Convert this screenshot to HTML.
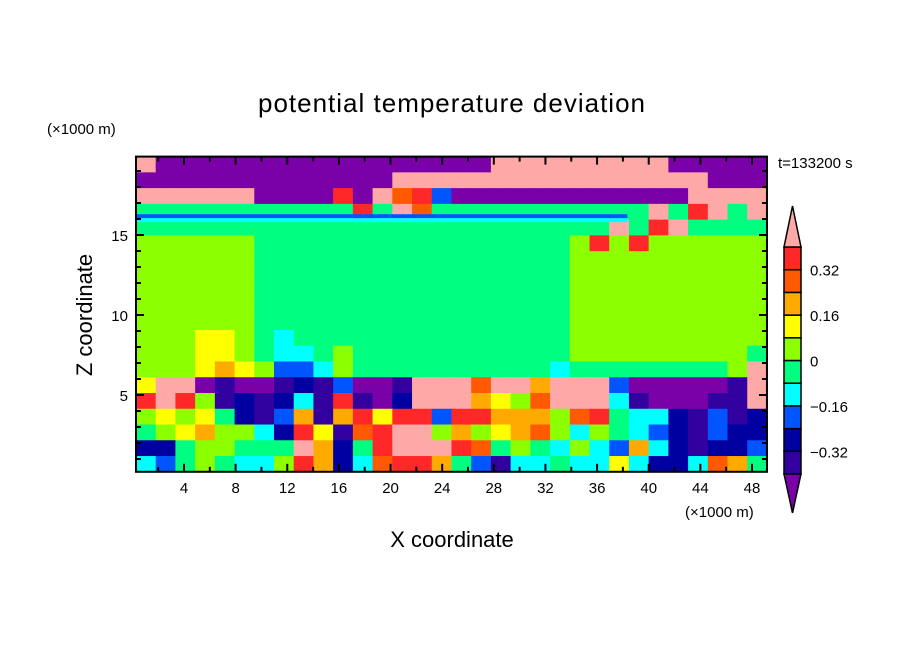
<!DOCTYPE html>
<html><head><meta charset="utf-8">
<style>
body{margin:0;background:#fff;width:904px;height:654px;overflow:hidden}
svg text{font-family:"Liberation Sans",sans-serif;fill:#000}
</style></head>
<body>
<svg id="chart" width="904" height="654" viewBox="0 0 904 654" xmlns="http://www.w3.org/2000/svg">
<g id="field"></g>
<g id="axes"></g>
<g id="cbar"></g>
<text x="452" y="112" font-size="26" text-anchor="middle" letter-spacing="1">potential temperature deviation</text>
<text x="47" y="134" font-size="15">(×1000 m)</text>
<text x="685" y="517" font-size="15">(×1000 m)</text>
<text x="778" y="168" font-size="15">t=133200 s</text>
<text x="452" y="547" font-size="22" text-anchor="middle">X coordinate</text>
<text x="0" y="0" font-size="22" text-anchor="middle" transform="translate(92,315) rotate(-90)">Z coordinate</text>
</svg>
<script>
// level colours: 0 purple(<-0.4) ... 11 pink(>0.4)
const levelColors=["#7a00a8","#3300a0","#0000a0","#0055ff","#00ffff","#00ff80","#8cff00","#ffff00","#ffaa00","#ff5a00","#ff2828","#ffa8a8"];
const levelBounds=[-0.4,-0.32,-0.24,-0.16,-0.08,0,0.08,0.16,0.24,0.32,0.4];
const cbarLabels=["0.32","0.16","0","−0.16","−0.32"];
const cbarLabelValues=[0.32,0.16,0,-0.16,-0.32];
const xTicks=[4,8,12,16,20,24,28,32,36,40,44,48];
const zTicks=[5,10,15];
// field grid, rows from top (z high) to bottom, level index per cell (hex digit)
const fieldRows=[
"b00000000000000000bbbbbbbbb00000",
"0000000000000bbbbbbbbbbbbbbbb000",
"bbbbbb0000a0b9a3000000000000bbbb",
"55555555555a5b955555555555b5ab5b",
"555555555555555555555555b5ab5555",
"66666655555555555555556a6a666666",
"66666655555555555555556666666666",
"66666655555555555555556666666666",
"66666655555555555555556666666666",
"66666655555555555555556666666666",
"66666655555555555555556666666666",
"66677654555555555555556666666666",
"66677654456555555555556666666665",
"6667876334655555555554555555556b",
"7bb01001213001bbb9bb8bbb3000001b",
"aba6121241a102bbb8769bbb4100011b",
"67675213818a7aa3aa88869a54421312",
"56786642a719abb68678964654321322",
"22566555b825abbba956546438421223",
"43565446a8249aa85314454474224985"
];
// thin stratification bands near z=16 (value level, z top, z bottom)
const bandLevels=[3,4];
const bandTops=[16.3,16.05];
const bandBottoms=[16.05,15.8];
const xMinKm=0.28, xMaxKm=49.16, zMinKm=0.2, zMaxKm=19.9;
function xs(v){return 132.36+12.909*v;}
function zs(v){return 475-16.0*v;}
const NS="http://www.w3.org/2000/svg";
function mk(tag,attrs,parent){const e=document.createElementNS(NS,tag);for(const k in attrs)e.setAttribute(k,attrs[k]);parent.appendChild(e);return e;}
const field=document.getElementById('field');
const nr=fieldRows.length;
for(let r=0;r<nr;r++){
  const row=fieldRows[r];const nc=row.length;
  const dx=(xMaxKm-xMinKm)/nc, dz=(zMaxKm-zMinKm)/nr;
  for(let c=0;c<nc;c++){
    const lv=parseInt(row[c],16);
    const x0=xs(xMinKm+c*dx), x1=xs(xMinKm+(c+1)*dx);
    const zt=zMaxKm-r*dz, zb=zMaxKm-(r+1)*dz;
    const rc=mk('rect',{x:x0,y:zs(zt),width:x1-x0+0.6,height:zs(zb)-zs(zt)+0.6,fill:levelColors[lv]},field);
    
    
  }
}
bandLevels.forEach((lv,i)=>{
  const b=mk('rect',{x:xs(xMinKm),y:zs(bandTops[i]),width:xs(xMaxKm*0.78)-xs(xMinKm),height:zs(bandBottoms[i])-zs(bandTops[i]),fill:levelColors[lv]},field);
  
  
});
const axes=document.getElementById('axes');
const L=xs(xMinKm),R=xs(xMaxKm),T=zs(zMaxKm),B=zs(zMinKm);
const frame=mk('rect',{x:L,y:T,width:R-L,height:B-T,fill:'none',stroke:'#000','stroke-width':2},axes);


for(let v=2;v<=48;v+=2){
  const major=v%4===0, len=major?8:5, x=xs(v);
  mk('line',{x1:x,x2:x,y1:B,y2:B-len,stroke:'#000','stroke-width':2},axes);
  mk('line',{x1:x,x2:x,y1:T,y2:T+len,stroke:'#000','stroke-width':2},axes);
}
xTicks.forEach(v=>{const t=mk('text',{x:xs(v),y:B+21,'font-size':15,'text-anchor':'middle'},axes);t.textContent=v;

});
for(let v=1;v<=19;v++){
  const major=v%5===0,len=major?8:5,y=zs(v);
  mk('line',{x1:L,x2:L+len,y1:y,y2:y,stroke:'#000','stroke-width':2},axes);
  mk('line',{x1:R,x2:R-len,y1:y,y2:y,stroke:'#000','stroke-width':2},axes);
}
zTicks.forEach(v=>{const t=mk('text',{x:L-8,y:zs(v)+6,'font-size':15,'text-anchor':'end'},axes);t.textContent=v;

});
// colorbar
const cb=document.getElementById('cbar');
const cx0=784,cx1=801,cTop=247,cBot=474;
const nb=levelBounds.length-1, bh=(cBot-cTop)/nb;
function cy(v){return cBot-(v-levelBounds[0])/(levelBounds[nb]-levelBounds[0])*(cBot-cTop);}
for(let i=0;i<nb;i++){
  const b=mk('rect',{x:cx0,y:cy(levelBounds[i+1]),width:cx1-cx0,height:bh,fill:levelColors[i+1],stroke:'#000','stroke-width':1.5},cb);
  
  
}
const up=mk('polygon',{points:`${cx0},${cTop} ${cx1},${cTop} ${(cx0+cx1)/2},206`,fill:levelColors[11],stroke:'#000','stroke-width':1.5},cb);


const dn=mk('polygon',{points:`${cx0},${cBot} ${cx1},${cBot} ${(cx0+cx1)/2},513`,fill:levelColors[0],stroke:'#000','stroke-width':1.5},cb);


cbarLabels.forEach((s,i)=>{const t=mk('text',{x:810,y:cy(cbarLabelValues[i])+6,'font-size':15},cb);t.textContent=s;

});
</script>
</body></html>
